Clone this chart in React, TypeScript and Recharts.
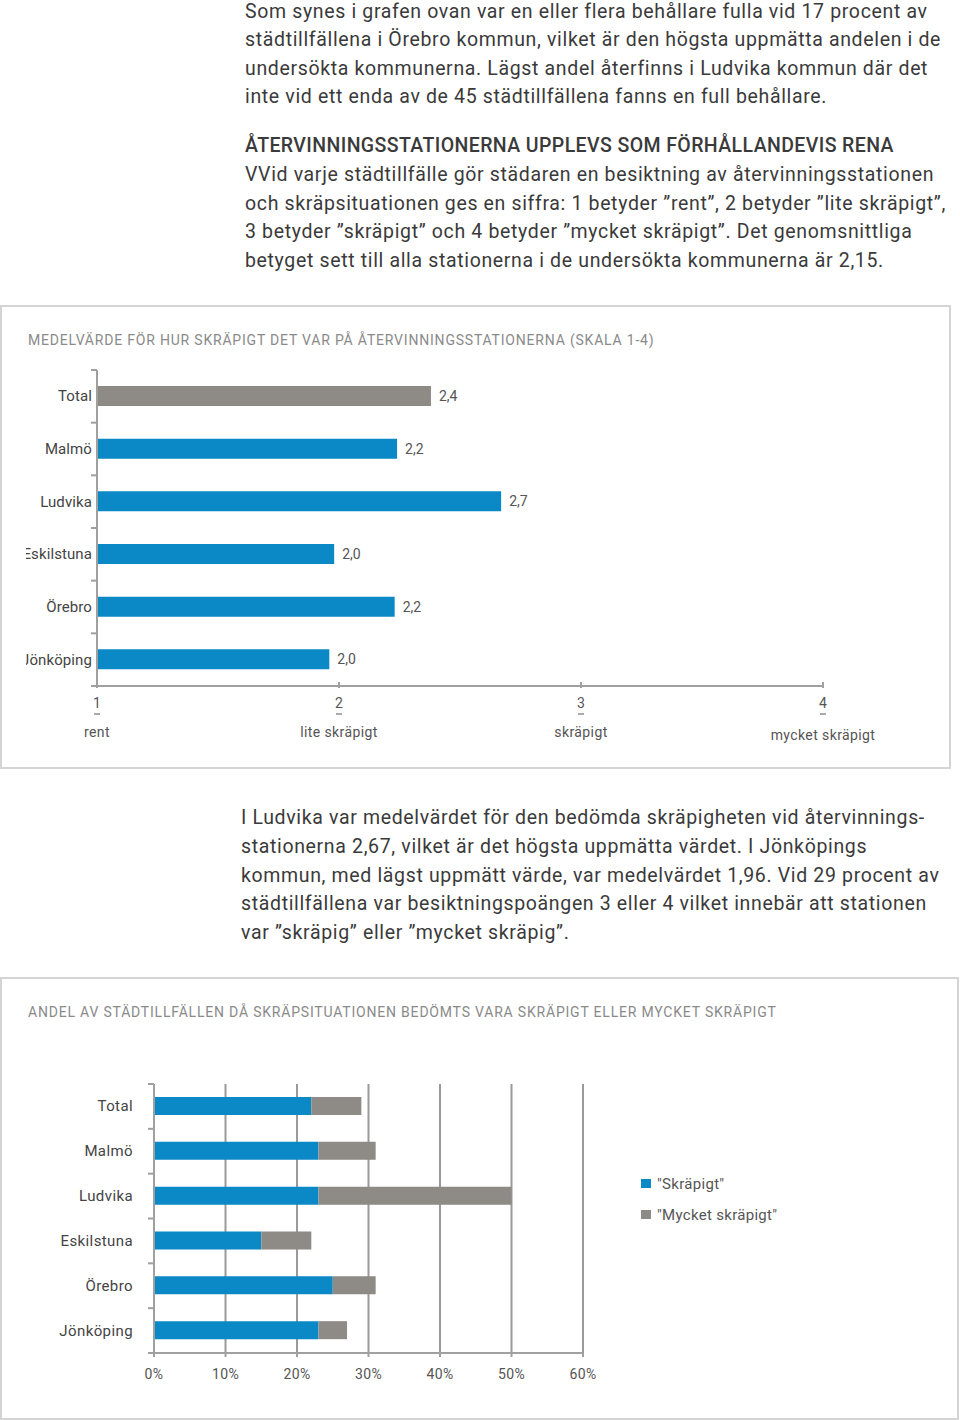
import React from 'react';
import { BarChart, Bar, XAxis, YAxis, CartesianGrid, LabelList, Legend, Cell } from 'recharts';

const kommuner = ['Total', 'Malmö', 'Ludvika', 'Eskilstuna', 'Örebro', 'Jönköping'];
const medelvarde = [2.38, 2.24, 2.67, 1.98, 2.23, 1.96];
const scoreTicks = [1, 2, 3, 4];
const scoreLabels = ['rent', 'lite skräpigt', 'skräpigt', 'mycket skräpigt'];
const skrapigt = [22, 23, 23, 15, 25, 23];
const mycketSkrapigt = [7, 8, 27, 7, 6, 4];
const pctTicks = [0, 10, 20, 30, 40, 50, 60];

const para1 = [
  'Som synes i grafen ovan var en eller flera behållare fulla vid 17 procent av',
  'städtillfällena i Örebro kommun, vilket är den högsta uppmätta andelen i de',
  'undersökta kommunerna. Lägst andel återfinns i Ludvika kommun där det',
  'inte vid ett enda av de 45 städtillfällena fanns en full behållare.',
];
const heading = 'ÅTERVINNINGSSTATIONERNA UPPLEVS SOM FÖRHÅLLANDEVIS RENA';
const para2 = [
  'VVid varje städtillfälle gör städaren en besiktning av återvinningsstationen',
  'och skräpsituationen ges en siffra: 1 betyder ”rent”, 2 betyder ”lite skräpigt”,',
  '3 betyder ”skräpigt” och 4 betyder ”mycket skräpigt”. Det genomsnittliga',
  'betyget sett till alla stationerna i de undersökta kommunerna är 2,15.',
];
const para3 = [
  'I Ludvika var medelvärdet för den bedömda skräpigheten vid återvinnings-',
  'stationerna 2,67, vilket är det högsta uppmätta värdet. I Jönköpings',
  'kommun, med lägst uppmätt värde, var medelvärdet 1,96. Vid 29 procent av',
  'städtillfällena var besiktningspoängen 3 eller 4 vilket innebär att stationen',
  'var ”skräpig” eller ”mycket skräpig”.',
];
const title1 = 'MEDELVÄRDE FÖR HUR SKRÄPIGT DET VAR PÅ ÅTERVINNINGSSTATIONERNA (SKALA 1-4)';
const title2 = 'ANDEL AV STÄDTILLFÄLLEN DÅ SKRÄPSITUATIONEN BEDÖMTS VARA SKRÄPIGT ELLER MYCKET SKRÄPIGT';
const seriesNames = ['"Skräpigt"', '"Mycket skräpigt"'];

const FONT = 'Roboto, "DejaVu Sans", sans-serif';
const BLUE = '#0b88c6';
const GRAY = '#8e8a85';
const AXIS = '#a0a0a0';
const TEXT = '#3a3a3a';

const data1 = kommuner.map((k, i) => ({ name: k, value: medelvarde[i] }));
const data2 = kommuner.map((k, i) => ({ name: k, s: skrapigt[i], m: mycketSkrapigt[i] }));

function TextLines({ top, left, lines, lh, size, weight = 400, spacing = 0 }: any) {
  return (
    <div style={{ position: 'absolute', top, left, fontFamily: FONT, fontSize: size, lineHeight: lh + 'px', color: TEXT, fontWeight: weight, letterSpacing: spacing, whiteSpace: 'nowrap' }}>
      {lines.map((l: string, i: number) => (
        <div key={i}>{l}</div>
      ))}
    </div>
  );
}

const CatTick = (props: any) => {
  const { x, y, payload, gap, count, clipLeft, spacing } = props;
  const ax = x + gap;
  const off = payload && payload.offset ? payload.offset : 0;
  const idx = payload ? payload.index : 0;
  const clipId = 'clip-' + Math.round(ax) + '-' + idx;
  return (
    <g>
      <line x1={ax - 6} x2={ax} y1={y - off} y2={y - off} stroke={AXIS} strokeWidth={2} />
      {idx === count - 1 && <line x1={ax - 6} x2={ax} y1={y + off} y2={y + off} stroke={AXIS} strokeWidth={2} />}
      {clipLeft != null && (
        <defs>
          <clipPath id={clipId}>
            <rect x={clipLeft} y={y - 20} width={ax - clipLeft} height={40} />
          </clipPath>
        </defs>
      )}
      <text x={x} y={y} dy={5} textAnchor="end" fontSize={15} fill="#444" fontFamily={FONT} letterSpacing={spacing} clipPath={clipLeft != null ? `url(#${clipId})` : undefined}>
        {payload.value}
      </text>
    </g>
  );
};

const ScoreTick = (props: any) => {
  const { x, y, payload } = props;
  const idx = scoreTicks.indexOf(payload.value);
  return (
    <g>
      <line x1={x} x2={x} y1={y - 4} y2={y + 2} stroke={AXIS} strokeWidth={2} />
      <text x={x} y={y + 22} textAnchor="middle" fontSize={14} fill="#555" fontFamily={FONT}>{payload.value}</text>
      <line x1={x - 3} x2={x + 3} y1={y + 28} y2={y + 28} stroke="#555" strokeWidth={1} />
      <text x={x} y={y + 51 + (idx === 3 ? 3 : 0)} textAnchor="middle" fontSize={14} fill="#555" fontFamily={FONT} letterSpacing={0.4}>{scoreLabels[idx]}</text>
    </g>
  );
};

const fmt = (v: any) => Number(v).toFixed(1).replace('.', ',');

const LegendContent = () => (
  <div style={{ fontFamily: FONT, fontSize: 15, color: '#555', letterSpacing: 0.3 }}>
    {seriesNames.map((n, i) => (
      <div key={n} style={{ display: 'flex', alignItems: 'center', height: 31 }}>
        <div style={{ width: 10, height: 9, background: i === 0 ? BLUE : GRAY, marginRight: 6 }} />
        <span>{n}</span>
      </div>
    ))}
  </div>
);

export default function App() {
  return (
    <div style={{ position: 'absolute', left: 0, top: 0, width: 960, height: 1420, background: '#fff', overflow: 'hidden' }}>
      <TextLines top={-2} left={245} lines={para1} lh={28.4} size={19.5} spacing={0.65} />
      <TextLines top={132} left={245} lines={[heading]} lh={28.7} size={19.5} weight={500} spacing={0.4} />
      <TextLines top={161} left={245} lines={para2} lh={28.7} size={19.5} spacing={0.65} />

      <div style={{ position: 'absolute', left: 0, top: 305, width: 947, height: 460, border: '2px solid #d4d4d4' }} />
      <div style={{ position: 'absolute', left: 28, top: 332, fontFamily: FONT, fontSize: 14, color: '#8a8a8a', whiteSpace: 'nowrap', letterSpacing: 0.8 }}>{title1}</div>
      <div style={{ position: 'absolute', left: 0, top: 305 }}>
        <BarChart width={950} height={463} data={data1} layout="vertical" margin={{ top: 65, right: 127, bottom: 0, left: 0 }}>
          <XAxis type="number" domain={[1, 4]} ticks={scoreTicks} interval={0} stroke={AXIS} strokeWidth={2} tickLine={false} tickSize={0} tickMargin={0} tick={<ScoreTick />} height={82} />
          <YAxis type="category" dataKey="name" width={97} axisLine={{ stroke: AXIS, strokeWidth: 2 }} tickLine={false} tickSize={0} tickMargin={5} interval={0} tick={<CatTick gap={5} count={kommuner.length} clipLeft={26} spacing={0.1} />} />
          <Bar dataKey="value" barSize={20} isAnimationActive={false}>
            {data1.map((d, i) => (
              <Cell key={d.name} fill={i === 0 ? GRAY : BLUE} />
            ))}
            <LabelList dataKey="value" position="right" offset={8} formatter={fmt} style={{ fontSize: 14, fill: '#555', fontFamily: FONT }} />
          </Bar>
        </BarChart>
      </div>

      <TextLines top={804} left={241} lines={para3} lh={28.75} size={19.5} spacing={0.65} />

      <div style={{ position: 'absolute', left: 0, top: 977, width: 955, height: 439, border: '2px solid #d4d4d4' }} />
      <div style={{ position: 'absolute', left: 28, top: 1004, fontFamily: FONT, fontSize: 14, color: '#8a8a8a', whiteSpace: 'nowrap', letterSpacing: 0.8 }}>{title2}</div>
      <div style={{ position: 'absolute', left: 0, top: 977 }}>
        <BarChart width={958} height={443} data={data2} layout="vertical" margin={{ top: 107, right: 375, bottom: 0, left: 0 }}>
          <CartesianGrid horizontal={false} vertical stroke="#9a9a9a" strokeWidth={2} />
          <XAxis type="number" domain={[0, 60]} ticks={pctTicks} interval={0} stroke={AXIS} strokeWidth={2} tickSize={4} tickMargin={12} tickLine={{ stroke: AXIS, strokeWidth: 2 }} tick={{ fontSize: 14, fill: '#555', fontFamily: FONT, letterSpacing: 0.4 }} tickFormatter={(v: number) => v + '%'} height={67} />
          <YAxis type="category" dataKey="name" width={154} axisLine={{ stroke: AXIS, strokeWidth: 2 }} tickLine={false} tickSize={0} tickMargin={21} interval={0} tick={<CatTick gap={21} count={kommuner.length} spacing={0.4} />} />
          <Bar dataKey="s" stackId="a" fill={BLUE} barSize={18} isAnimationActive={false} />
          <Bar dataKey="m" stackId="a" fill={GRAY} barSize={18} isAnimationActive={false} />
          <Legend layout="horizontal" align="center" verticalAlign="middle" content={<LegendContent />} wrapperStyle={{ left: 641, top: 1168 - 977, width: 220, height: 62 }} />
        </BarChart>
      </div>
    </div>
  );
}
